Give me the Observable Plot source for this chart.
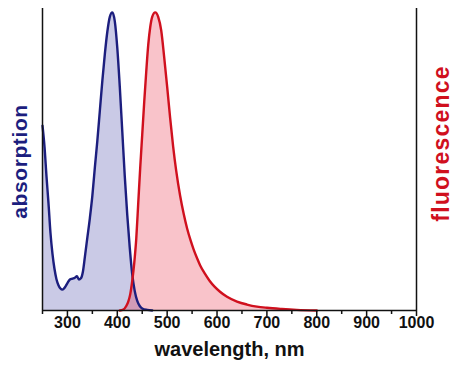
<!DOCTYPE html>
<html>
<head>
<meta charset="utf-8">
<script src="https://cdn.jsdelivr.net/npm/d3@7"></script>
<script src="https://cdn.jsdelivr.net/npm/@observablehq/plot@0.6"></script>
<style>
  html, body { margin: 0; padding: 0; background: #fff; }
  svg { display: block; }
</style>
</head>
<body>
<div id="chart"></div>
<script>
// Absorption spectrum (normalized)
const absWavelength = [250, 254, 258, 262, 266, 270, 274, 278, 282, 286, 290, 295, 300, 305, 310, 315, 319, 323, 327, 331, 335, 340, 345, 350, 355, 360, 365, 370, 375, 380, 385, 390, 395, 400, 405, 410, 415, 420, 425, 430, 435, 440, 445, 450, 460, 470];
const absValue      = [0.62, 0.55, 0.45, 0.36, 0.26, 0.19, 0.14, 0.105, 0.085, 0.074, 0.07, 0.078, 0.092, 0.104, 0.107, 0.11, 0.115, 0.104, 0.108, 0.13, 0.18, 0.245, 0.31, 0.385, 0.48, 0.57, 0.67, 0.77, 0.86, 0.935, 0.985, 1.0, 0.97, 0.88, 0.75, 0.6, 0.45, 0.32, 0.21, 0.12, 0.065, 0.032, 0.015, 0.007, 0.002, 0];

// Fluorescence spectrum (normalized)
const fluWavelength = [405, 412, 418, 422, 426, 430, 434, 438, 442, 446, 450, 454, 458, 462, 466, 470, 476, 482, 488, 494, 500, 506, 512, 518, 526, 533, 540, 547, 553, 560, 566, 575, 585, 595, 606, 620, 640, 660, 680, 700, 730, 760, 800];
const fluValue      = [0, 0.003, 0.015, 0.03, 0.055, 0.1, 0.16, 0.24, 0.36, 0.48, 0.59, 0.70, 0.80, 0.89, 0.95, 0.985, 1.0, 0.985, 0.94, 0.85, 0.75, 0.645, 0.55, 0.47, 0.385, 0.325, 0.275, 0.235, 0.205, 0.175, 0.152, 0.125, 0.1, 0.08, 0.063, 0.046, 0.03, 0.02, 0.013, 0.009, 0.005, 0.002, 0];

const majorTicks = [300, 400, 500, 600, 700, 800, 900, 1000];
const minorTicks = [250, 350, 450, 550, 650, 750, 850, 950];
const xTitle = "wavelength, nm";
const leftLabel = "absorption";
const rightLabel = "fluorescence";

const absData = absWavelength.map((w, i) => ({w, v: absValue[i]}));
const fluData = fluWavelength.map((w, i) => ({w, v: fluValue[i]}));

const navy = "#1c1e7e";
const red = "#d0101e";
const font = "'Liberation Sans', Arial, sans-serif";

const chart = Plot.plot({
  width: 455,
  height: 373,
  marginLeft: 42,
  marginRight: 39,
  marginTop: 8,
  marginBottom: 63,
  style: {fontFamily: font, fontWeight: "bold", background: "#fff"},
  x: {domain: [250, 1000]},
  y: {domain: [0, 1.013], axis: null},
  marks: [
    Plot.areaY(absData, {x: "w", y: "v", fill: "#2b2b9a", fillOpacity: 0.25, curve: "monotone-x"}),
    Plot.areaY(fluData, {x: "w", y: "v", fill: "#e8102a", fillOpacity: 0.25, curve: "monotone-x"}),
    Plot.lineY(absData, {x: "w", y: "v", stroke: navy, strokeWidth: 2.4, curve: "monotone-x"}),
    Plot.lineY(fluData, {x: "w", y: "v", stroke: red, strokeWidth: 2.4, curve: "monotone-x"}),
    Plot.ruleX([250, 1000], {stroke: "#111", strokeWidth: 1.5}),
    Plot.ruleY([0], {stroke: "#111", strokeWidth: 1.5}),
    Plot.axisX({ticks: minorTicks, tickSize: 4, tickFormat: () => "", stroke: "#111", strokeWidth: 1.5, label: null}),
    Plot.axisX({ticks: majorTicks, tickSize: 6, tickFormat: () => "", stroke: "#111", strokeWidth: 1.5, label: null}),
    Plot.text(majorTicks, {x: d => d, frameAnchor: "bottom", dy: 17, text: d => String(d), fontSize: 16, fontWeight: "bold", fill: "#111"}),
    Plot.text([xTitle], {frameAnchor: "bottom", dy: 45, text: d => d, fontSize: 20, fontWeight: "bold", fill: "#111", style: {letterSpacing: "0.8px"}}),
    Plot.text([leftLabel], {frameAnchor: "left", textAnchor: "middle", dx: -22, dy: 2, rotate: -90, text: d => d, fontSize: 21, fontWeight: "bold", fill: navy}),
    Plot.text([rightLabel], {frameAnchor: "right", textAnchor: "middle", dx: 25, dy: -16, rotate: -90, text: d => d, fontSize: 23, fontWeight: "bold", fill: red})
  ]
});
d3.select(chart).selectAll("text").filter(function() { return this.textContent === rightLabel; }).style("letter-spacing", "1.2px");
d3.select(chart).selectAll("text").filter(function() { return this.textContent === leftLabel; }).style("letter-spacing", "0.6px");
document.getElementById("chart").append(chart);
</script>
</body>
</html>
